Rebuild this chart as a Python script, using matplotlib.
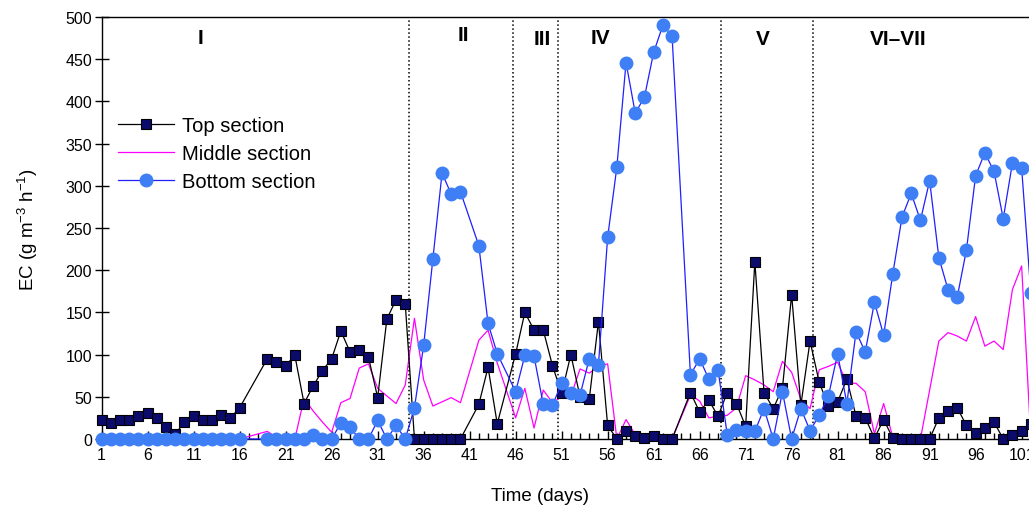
import matplotlib
matplotlib.use("Agg")
import matplotlib.pyplot as plt
from matplotlib.ticker import MultipleLocator, FixedLocator

plt.rcParams['font.family'] = ['Liberation Sans', 'DejaVu Sans']
plt.rcParams['mathtext.fontset'] = 'custom'
plt.rcParams['mathtext.rm'] = 'Liberation Sans'
plt.rcParams['mathtext.it'] = 'Liberation Sans:italic'

# sampling days (17, 18, 41, 45 and 64 were not sampled)
days = [1, 2, 3, 4, 5, 6, 7, 8, 9, 10, 11, 12, 13, 14, 15, 16,
        19, 20, 21, 22, 23, 24, 25, 26, 27, 28, 29, 30, 31, 32, 33, 34,
        35, 36, 37, 38, 39, 40,
        42, 43, 44,
        46, 47, 48, 49, 50, 51, 52, 53, 54, 55, 56, 57, 58, 59, 60, 61, 62, 63,
        65, 66, 67, 68, 69, 70, 71, 72, 73, 74, 75, 76, 77, 78, 79, 80, 81, 82, 83,
        84, 85, 86, 87, 88, 89, 90, 91, 92, 93, 94, 95, 96, 97, 98, 99, 100, 101, 102]

top = [22, 19, 23, 23, 27, 31, 25, 14, 6, 20, 27, 23, 22, 28, 25, 37,
       95, 91, 87, 99, 42, 63, 81, 95, 128, 103, 106, 97, 49, 142, 165, 160,
       0, 0, 0, 0, 0, 0,
       41, 85, 18,
       101, 150, 129, 129, 87, 54, 100, 50, 47, 139, 16, 0, 9, 4, 1, 3, 0, 0,
       55, 32, 46, 27, 55, 42, 15, 210, 55, 36, 60, 171, 40, 116, 67, 39, 44, 71, 27,
       25, 1, 23, 1, 0, 0, 0, 0, 25, 33, 37, 16, 7, 13, 20, 0, 5, 10, 18]

middle = [0, 0, 0, 0, 0, 0, 0, 0, 0, 0, 0, 0, 0, 0, 0, 0,
          9, 2, 0, 0, 48, 33, 20, 8, 43, 48, 84, 89, 60, 51, 42, 64,
          143, 70, 39, 44, 49, 43,
          117, 129, 90,
          25, 60, 13, 58, 43, 50, 51, 83, 78, 86, 89, 0, 23, 5, 2, 6, 1, 0,
          52, 45, 25, 27, 28, 37, 75, 70, 64, 56, 92, 79, 47, 36, 82, 86, 91, 66, 66,
          56, 6, 42, 2, 0, 0, 0, 58, 116, 126, 122, 116, 145, 110, 116, 106, 177, 205, 0]

bottom = [0, 0, 0, 0, 0, 0, 0, 0, 0, 0, 0, 0, 0, 0, 0, 0,
          0, 0, 0, 0, 0, 5, 0, 0, 19, 14, 0, 0, 22, 0, 16, 0,
          37, 111, 213, 315, 290, 293,
          229, 137, 101,
          56, 99, 98, 41, 40, 66, 55, 52, 95, 88, 239, 322, 446, 386, 405, 458, 490, 478,
          76, 95, 71, 82, 5, 11, 9, 9, 36, 0, 56, 0, 36, 10, 28, 51, 101, 42, 127,
          103, 162, 123, 196, 263, 291, 259, 306, 215, 177, 168, 224, 312, 339, 317, 261, 327, 321, 173]

phase_bounds = [34.4, 45.7, 50.6, 68.3, 78.3]
phase_labels = ['I', 'II', 'III', 'IV', 'V', 'VI\u2013VII']
phase_label_x = [11.7, 40.3, 48.9, 55.2, 72.9, 87.6]
phase_label_y = [476, 479, 474, 476, 474, 475]

fig = plt.figure(figsize=(10.29, 5.10), dpi=100)
ax = fig.add_axes([0.0988, 0.1373, 0.9298, 0.8275])

ax.plot(days, top, color='black', lw=0.9, marker='s', ms=6.5,
        mfc='#0b0b6b', mec='black', mew=0.8, label='Top section', zorder=3, clip_on=False)
ax.plot(days, middle, color='#ff00ff', lw=0.9, label='Middle section', zorder=2, clip_on=False)
ax.plot(days, bottom, color='#1f1fff', lw=0.9, marker='o', ms=9,
        mfc='#3f7ff5', mec='#3f7ff5', label='Bottom section', zorder=4, clip_on=False)

for b in phase_bounds:
    ax.axvline(b, color='black', lw=1.1, ls=(0, (1, 1.6)), zorder=1)
for lab, x, y in zip(phase_labels, phase_label_x, phase_label_y):
    ax.text(x, y, lab, ha='center', va='center', fontsize=15, fontweight='bold')

ax.set_xlim(1, 105)
ax.set_ylim(0, 500)
ax.xaxis.set_major_locator(FixedLocator(list(range(1, 105, 5))))
ax.xaxis.set_minor_locator(MultipleLocator(1))
ax.yaxis.set_major_locator(MultipleLocator(50))
ax.tick_params(axis='x', which='major', direction='in', length=6, width=1, labelsize=11.5, pad=6)
ax.tick_params(axis='x', which='minor', direction='in', length=4, width=1)
ax.tick_params(axis='y', direction='inout', length=10, width=1, labelsize=11.5, pad=2)
ax.spines['right'].set_visible(False)
for s in ['left', 'top', 'bottom']:
    ax.spines[s].set_linewidth(1)

fig.text(28 / 1029, 1 - 230 / 510, 'EC (g m$^{\\mathrm{-3}}$ h$^{\\mathrm{-1}}$)',
         rotation=90, ha='center', va='center', fontsize=13.5)
fig.text(540 / 1029, 1 - 497 / 510, 'Time (days)', ha='center', va='center', fontsize=13.5)

ax.legend(loc='upper left', bbox_to_anchor=(118 / 1029, 1 - 117 / 510),
          bbox_transform=fig.transFigure, frameon=False, fontsize=14.5,
          handlelength=2.8, handletextpad=0.4, labelspacing=0.45, borderpad=0,
          borderaxespad=0)

fig.savefig('out.png', dpi=100)
